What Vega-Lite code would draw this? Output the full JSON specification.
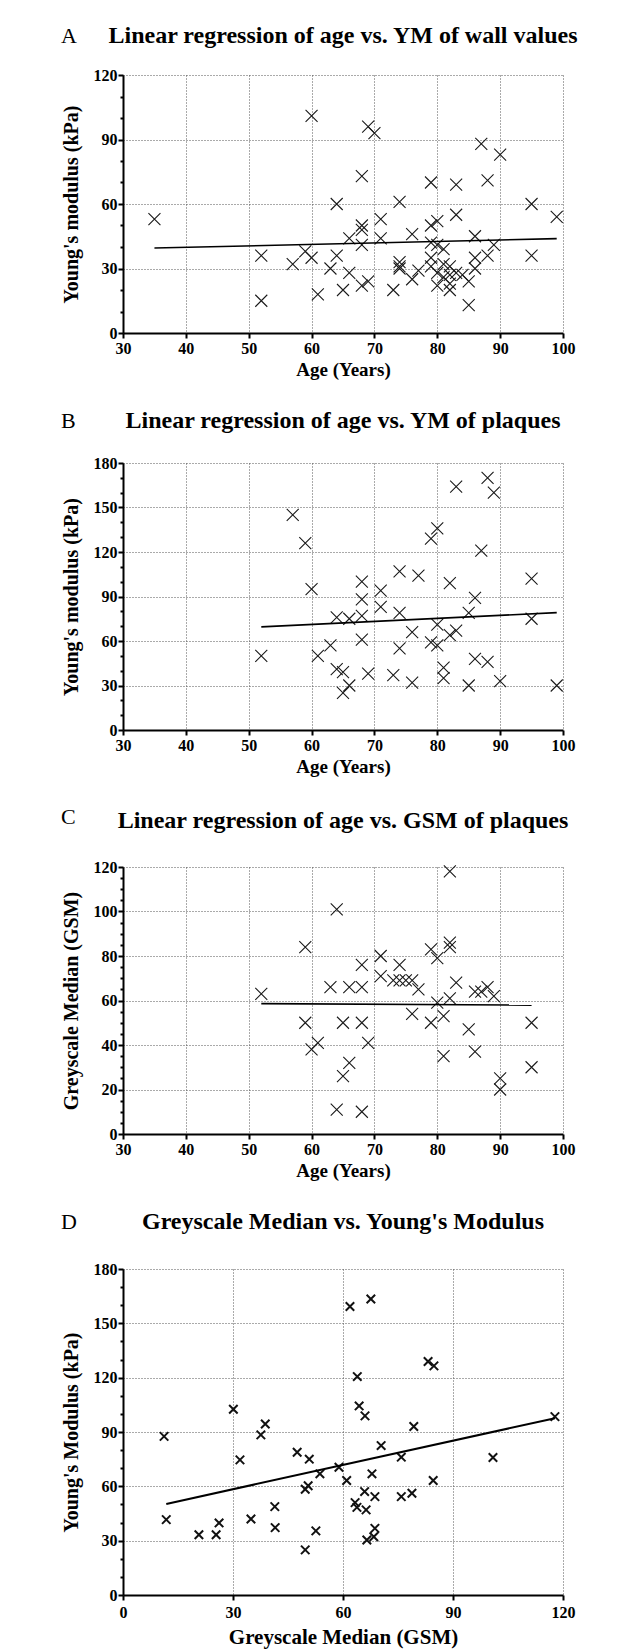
{
  "$schema": "https://vega.github.io/schema/vega-lite/v6.json",
  "usermeta": {"embedOptions": {"actions": false}},
  "background": "white",
  "padding": {"left": 61, "top": 24, "right": 0, "bottom": 36},
  "autosize": {"type": "pad"},
  "config": {
    "view": {"stroke": null},
    "font": "Liberation Serif",
    "axis": {
      "labelFont": "Liberation Serif", "labelFontSize": 16, "labelFontWeight": "bold", "labelColor": "black",
      "titleFont": "Liberation Serif", "titleFontWeight": "bold", "titleColor": "black",
      "domainColor": "black", "domainWidth": 2, "tickColor": "black", "tickWidth": 2,
      "grid": true, "gridColor": "#555555", "gridDash": [1, 2], "gridWidth": 1,
      "labelFlush": false, "labelOverlap": false
    },
    "axisX": {"tickSize": 5, "labelPadding": 2, "titlePadding": 4, "titleFontSize": 19},
    "axisY": {"labelPadding": 1, "titlePadding": 12, "titleFontSize": 20},
    "title": {"font": "Liberation Serif", "color": "black"}
  },
  "datasets": {
    "wall": [
      {"age": 35, "ym": 53}, {"age": 52, "ym": 36}, {"age": 52, "ym": 15}, {"age": 57, "ym": 32},
      {"age": 59, "ym": 38}, {"age": 60, "ym": 101}, {"age": 60, "ym": 35}, {"age": 61, "ym": 18},
      {"age": 63, "ym": 30}, {"age": 64, "ym": 60}, {"age": 64, "ym": 36}, {"age": 65, "ym": 20},
      {"age": 66, "ym": 44}, {"age": 66, "ym": 28}, {"age": 68, "ym": 73}, {"age": 68, "ym": 50},
      {"age": 68, "ym": 48}, {"age": 68, "ym": 41}, {"age": 68, "ym": 22}, {"age": 69, "ym": 24},
      {"age": 69, "ym": 96}, {"age": 70, "ym": 93}, {"age": 71, "ym": 53}, {"age": 71, "ym": 44},
      {"age": 73, "ym": 20}, {"age": 74, "ym": 61}, {"age": 74, "ym": 33}, {"age": 74, "ym": 31},
      {"age": 74, "ym": 30}, {"age": 76, "ym": 46}, {"age": 76, "ym": 25}, {"age": 77, "ym": 29},
      {"age": 79, "ym": 70}, {"age": 79, "ym": 50}, {"age": 79, "ym": 42}, {"age": 79, "ym": 35},
      {"age": 79, "ym": 31}, {"age": 80, "ym": 52}, {"age": 80, "ym": 41}, {"age": 80, "ym": 28},
      {"age": 80, "ym": 22}, {"age": 81, "ym": 39}, {"age": 81, "ym": 32}, {"age": 81, "ym": 26},
      {"age": 82, "ym": 31}, {"age": 82, "ym": 27}, {"age": 82, "ym": 20}, {"age": 82, "ym": 23},
      {"age": 83, "ym": 69}, {"age": 83, "ym": 55}, {"age": 83, "ym": 28}, {"age": 84, "ym": 27},
      {"age": 85, "ym": 24}, {"age": 85, "ym": 13}, {"age": 86, "ym": 45}, {"age": 86, "ym": 35},
      {"age": 86, "ym": 30}, {"age": 87, "ym": 88}, {"age": 88, "ym": 71}, {"age": 88, "ym": 36},
      {"age": 89, "ym": 41}, {"age": 90, "ym": 83}, {"age": 95, "ym": 60}, {"age": 95, "ym": 36},
      {"age": 99, "ym": 54}
    ],
    "wallFit": [{"age": 35, "ym": 39.5}, {"age": 99, "ym": 43.9}],
    "plaque": [
      {"age": 52, "ym": 50}, {"age": 57, "ym": 145}, {"age": 59, "ym": 126}, {"age": 60, "ym": 95},
      {"age": 61, "ym": 50}, {"age": 63, "ym": 57}, {"age": 64, "ym": 76}, {"age": 64, "ym": 41},
      {"age": 65, "ym": 39}, {"age": 65, "ym": 25}, {"age": 66, "ym": 75}, {"age": 66, "ym": 30},
      {"age": 68, "ym": 100}, {"age": 68, "ym": 88}, {"age": 68, "ym": 77}, {"age": 68, "ym": 61},
      {"age": 69, "ym": 38}, {"age": 71, "ym": 94}, {"age": 71, "ym": 83}, {"age": 73, "ym": 37},
      {"age": 74, "ym": 107}, {"age": 74, "ym": 79}, {"age": 74, "ym": 55}, {"age": 76, "ym": 66},
      {"age": 76, "ym": 32}, {"age": 77, "ym": 104}, {"age": 79, "ym": 129}, {"age": 79, "ym": 59},
      {"age": 80, "ym": 136}, {"age": 80, "ym": 71}, {"age": 80, "ym": 57}, {"age": 81, "ym": 42},
      {"age": 81, "ym": 35}, {"age": 82, "ym": 99}, {"age": 82, "ym": 64}, {"age": 83, "ym": 164},
      {"age": 83, "ym": 67}, {"age": 85, "ym": 79}, {"age": 85, "ym": 30}, {"age": 86, "ym": 89},
      {"age": 86, "ym": 48}, {"age": 87, "ym": 121}, {"age": 88, "ym": 170}, {"age": 88, "ym": 46},
      {"age": 89, "ym": 160}, {"age": 90, "ym": 33}, {"age": 95, "ym": 102}, {"age": 95, "ym": 75},
      {"age": 99, "ym": 30}
    ],
    "plaqueFit": [{"age": 52, "ym": 69.5}, {"age": 99, "ym": 79.1}],
    "gsmAge": [
      {"age": 52, "gsm": 63}, {"age": 59, "gsm": 84}, {"age": 59, "gsm": 50}, {"age": 60, "gsm": 38},
      {"age": 61, "gsm": 41}, {"age": 63, "gsm": 66}, {"age": 64, "gsm": 101}, {"age": 64, "gsm": 11},
      {"age": 65, "gsm": 50}, {"age": 65, "gsm": 26}, {"age": 66, "gsm": 66}, {"age": 66, "gsm": 32},
      {"age": 68, "gsm": 76}, {"age": 68, "gsm": 66}, {"age": 68, "gsm": 50}, {"age": 68, "gsm": 10},
      {"age": 69, "gsm": 41}, {"age": 71, "gsm": 80}, {"age": 71, "gsm": 71}, {"age": 73, "gsm": 69},
      {"age": 74, "gsm": 69}, {"age": 74, "gsm": 76}, {"age": 75, "gsm": 69}, {"age": 76, "gsm": 69},
      {"age": 76, "gsm": 54}, {"age": 77, "gsm": 65}, {"age": 79, "gsm": 83}, {"age": 79, "gsm": 50},
      {"age": 80, "gsm": 79}, {"age": 80, "gsm": 59}, {"age": 81, "gsm": 53}, {"age": 81, "gsm": 35},
      {"age": 82, "gsm": 86}, {"age": 82, "gsm": 84}, {"age": 82, "gsm": 118}, {"age": 82, "gsm": 61},
      {"age": 83, "gsm": 68}, {"age": 85, "gsm": 47}, {"age": 86, "gsm": 64}, {"age": 86, "gsm": 37},
      {"age": 87, "gsm": 64}, {"age": 88, "gsm": 66}, {"age": 89, "gsm": 62}, {"age": 90, "gsm": 25},
      {"age": 90, "gsm": 20}, {"age": 95, "gsm": 50}, {"age": 95, "gsm": 30}
    ],
    "gsmAgeFit": [{"age": 52, "gsm": 58.6}, {"age": 95, "gsm": 57.9}],
    "gsmYm": [
      {"gsm": 11.2, "ym": 87.6}, {"gsm": 11.8, "ym": 41.6}, {"gsm": 20.7, "ym": 33.3}, {"gsm": 25.4, "ym": 33.3},
      {"gsm": 26.2, "ym": 39.8}, {"gsm": 30.1, "ym": 102.6}, {"gsm": 31.9, "ym": 74.6}, {"gsm": 34.9, "ym": 42},
      {"gsm": 37.6, "ym": 88.4}, {"gsm": 38.8, "ym": 94.4}, {"gsm": 41.4, "ym": 48.8}, {"gsm": 41.5, "ym": 37.2},
      {"gsm": 47.5, "ym": 78.8}, {"gsm": 49.7, "ym": 58.4}, {"gsm": 49.7, "ym": 24.9}, {"gsm": 50.8, "ym": 75},
      {"gsm": 50.5, "ym": 60.3}, {"gsm": 52.6, "ym": 35.4}, {"gsm": 53.7, "ym": 66.9}, {"gsm": 58.9, "ym": 70.5},
      {"gsm": 61, "ym": 63.2}, {"gsm": 61.9, "ym": 159.3}, {"gsm": 63.3, "ym": 51}, {"gsm": 63.8, "ym": 48.4},
      {"gsm": 63.9, "ym": 120.6}, {"gsm": 64.4, "ym": 104.4}, {"gsm": 66, "ym": 98.9}, {"gsm": 65.9, "ym": 57.1},
      {"gsm": 66.3, "ym": 47}, {"gsm": 66.5, "ym": 30.4}, {"gsm": 67.6, "ym": 163.4}, {"gsm": 67.9, "ym": 66.9},
      {"gsm": 68.7, "ym": 54.3}, {"gsm": 68.7, "ym": 36.8}, {"gsm": 68.4, "ym": 32.2}, {"gsm": 70.4, "ym": 82.5},
      {"gsm": 75.9, "ym": 76.1}, {"gsm": 75.9, "ym": 54.3}, {"gsm": 78.8, "ym": 56.2}, {"gsm": 79.3, "ym": 93},
      {"gsm": 83.2, "ym": 128.9}, {"gsm": 84.8, "ym": 126.5}, {"gsm": 84.6, "ym": 63.2}, {"gsm": 100.9, "ym": 75.9},
      {"gsm": 117.8, "ym": 98.5}
    ],
    "gsmYmFit": [{"gsm": 11.8, "ym": 50.3}, {"gsm": 117.8, "ym": 97.6}]
  },
  "spacing": 30,
  "vconcat": [
    {
      "title": {"text": "A", "anchor": "start", "frame": "bounds", "fontSize": 22, "fontWeight": "normal", "offset": -24},
      "vconcat": [{
        "width": 440, "height": 258,
        "title": {"text": "Linear regression of age vs. YM of wall values", "fontSize": 24, "fontWeight": "bold", "anchor": "middle", "frame": "group", "offset": 19},
        "encoding": {
          "x": {"field": "age", "type": "quantitative", "title": "Age (Years)",
                "scale": {"domain": [30, 100], "nice": false, "zero": false},
                "axis": {"values": [30, 40, 50, 60, 70, 80, 90, 100]}},
          "y": {"field": "ym", "type": "quantitative", "title": "Young's modulus (kPa)",
                "scale": {"domain": [0, 120], "nice": false},
                "axis": {"values": [0, 10, 20, 30, 40, 50, 60, 70, 80, 90, 100, 110, 120],
                         "labelExpr": "datum.value % 30 === 0 ? datum.label : ''",
                         "tickSize": {"condition": {"test": "datum.value % 30 === 0", "value": 5}, "value": 3},
                         "gridOpacity": {"condition": {"test": "datum.value % 30 === 0", "value": 1}, "value": 0}}}
        },
        "layer": [
          {"data": {"name": "wall"}, "mark": {"type": "point", "shape": "M-1,-1L1,1M1,-1L-1,1", "size": 144, "filled": false, "stroke": "#1a1a1a", "strokeWidth": 1.1, "opacity": 1}},
          {"data": {"name": "wallFit"}, "mark": {"type": "line", "color": "black", "strokeWidth": 1.6}}
        ]
      }]
    },
    {
      "title": {"text": "B", "anchor": "start", "frame": "bounds", "fontSize": 22, "fontWeight": "normal", "offset": -24},
      "vconcat": [{
        "width": 440, "height": 267,
        "title": {"text": "Linear regression of age vs. YM of plaques", "fontSize": 24, "fontWeight": "bold", "anchor": "middle", "frame": "group", "offset": 22},
        "encoding": {
          "x": {"field": "age", "type": "quantitative", "title": "Age (Years)",
                "scale": {"domain": [30, 100], "nice": false, "zero": false},
                "axis": {"values": [30, 40, 50, 60, 70, 80, 90, 100]}},
          "y": {"field": "ym", "type": "quantitative", "title": "Young's modulus (kPa)",
                "scale": {"domain": [0, 180], "nice": false},
                "axis": {"values": [0, 10, 20, 30, 40, 50, 60, 70, 80, 90, 100, 110, 120, 130, 140, 150, 160, 170, 180],
                         "labelExpr": "datum.value % 30 === 0 ? datum.label : ''",
                         "tickSize": {"condition": {"test": "datum.value % 30 === 0", "value": 5}, "value": 3},
                         "gridOpacity": {"condition": {"test": "datum.value % 30 === 0", "value": 1}, "value": 0}}}
        },
        "layer": [
          {"data": {"name": "plaque"}, "mark": {"type": "point", "shape": "M-1,-1L1,1M1,-1L-1,1", "size": 144, "filled": false, "stroke": "#1a1a1a", "strokeWidth": 1.1, "opacity": 1}},
          {"data": {"name": "plaqueFit"}, "mark": {"type": "line", "color": "black", "strokeWidth": 1.6}}
        ]
      }]
    },
    {
      "title": {"text": "C", "anchor": "start", "frame": "bounds", "fontSize": 22, "fontWeight": "normal", "offset": -20},
      "vconcat": [{
        "width": 440, "height": 267,
        "title": {"text": "Linear regression of age vs. GSM of plaques", "fontSize": 24, "fontWeight": "bold", "anchor": "middle", "frame": "group", "offset": 26},
        "encoding": {
          "x": {"field": "age", "type": "quantitative", "title": "Age (Years)",
                "scale": {"domain": [30, 100], "nice": false, "zero": false},
                "axis": {"values": [30, 40, 50, 60, 70, 80, 90, 100]}},
          "y": {"field": "gsm", "type": "quantitative", "title": "Greyscale Median (GSM)",
                "scale": {"domain": [0, 120], "nice": false},
                "axis": {"values": [0, 5, 10, 15, 20, 25, 30, 35, 40, 45, 50, 55, 60, 65, 70, 75, 80, 85, 90, 95, 100, 105, 110, 115, 120],
                         "labelExpr": "datum.value % 20 === 0 ? datum.label : ''",
                         "tickSize": {"condition": {"test": "datum.value % 20 === 0", "value": 5}, "value": 3},
                         "gridOpacity": {"condition": {"test": "datum.value % 20 === 0", "value": 1}, "value": 0}}}
        },
        "layer": [
          {"data": {"name": "gsmAge"}, "mark": {"type": "point", "shape": "M-1,-1L1,1M1,-1L-1,1", "size": 144, "filled": false, "stroke": "#1a1a1a", "strokeWidth": 1.1, "opacity": 1}},
          {"data": {"name": "gsmAgeFit"}, "mark": {"type": "line", "color": "black", "strokeWidth": 1.6}}
        ]
      }]
    },
    {
      "title": {"text": "D", "anchor": "start", "frame": "bounds", "fontSize": 22, "fontWeight": "normal", "offset": -24},
      "vconcat": [{
        "width": 440, "height": 326,
        "title": {"text": "Greyscale Median vs. Young's Modulus", "fontSize": 24, "fontWeight": "bold", "anchor": "middle", "frame": "group", "offset": 27},
        "encoding": {
          "x": {"field": "gsm", "type": "quantitative", "title": "Greyscale Median (GSM)",
                "scale": {"domain": [0, 120], "nice": false, "zero": false},
                "axis": {"values": [0, 30, 60, 90, 120], "titleFontSize": 21, "labelPadding": 4, "titlePadding": 6}},
          "y": {"field": "ym", "type": "quantitative", "title": "Young's Modulus (kPa)",
                "scale": {"domain": [0, 180], "nice": false},
                "axis": {"values": [0, 10, 20, 30, 40, 50, 60, 70, 80, 90, 100, 110, 120, 130, 140, 150, 160, 170, 180],
                         "labelExpr": "datum.value % 30 === 0 ? datum.label : ''",
                         "tickSize": {"condition": {"test": "datum.value % 30 === 0", "value": 5}, "value": 3},
                         "gridOpacity": {"condition": {"test": "datum.value % 30 === 0", "value": 1}, "value": 0}}}
        },
        "layer": [
          {"data": {"name": "gsmYm"}, "mark": {"type": "point", "shape": "M-1,-1L1,1M1,-1L-1,1", "size": 72, "filled": false, "stroke": "#111111", "strokeWidth": 2, "opacity": 1}},
          {"data": {"name": "gsmYmFit"}, "mark": {"type": "line", "color": "black", "strokeWidth": 2}}
        ]
      }]
    }
  ]
}
